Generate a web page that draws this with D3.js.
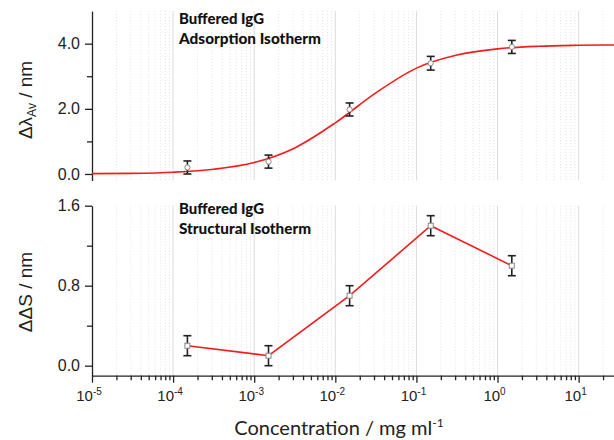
<!DOCTYPE html>
<html><head><meta charset="utf-8">
<script src="https://cdn.jsdelivr.net/npm/d3@7"></script>
<style>
body{margin:0;background:#fff;}
svg{display:block;}
</style></head>
<body>
<svg id="chart" width="614" height="440"></svg>
<script>
// ---- data ----
const concentrations = [1.5e-4, 1.5e-3, 1.5e-2, 0.15, 1.5];          // mg/ml
const adsorption     = [0.20, 0.38, 1.98, 3.40, 3.90];              // Δλ_Av (nm)
const adsorptionErr  = [0.20, 0.20, 0.20, 0.21, 0.20];
const structural     = [0.20, 0.10, 0.70, 1.40, 1.00];              // ΔΔS (nm)
const structuralErr  = [0.10, 0.10, 0.10, 0.10, 0.10];
// fitted isotherm at half-decade steps
const fitConc   = [1e-5, 3.16e-5, 1e-4, 3.16e-4, 1e-3, 3.16e-3, 1e-2, 3.16e-2, 0.1, 0.316, 1, 3.16, 10, 27.3];
const fitValues = [0.01, 0.02, 0.055, 0.144, 0.35, 0.80, 1.57, 2.49, 3.25, 3.65, 3.84, 3.92, 3.95, 3.96];
const xTickExponents = [-5, -4, -3, -2, -1, 0, 1];
const topTicks = [0, 2, 4], topMinor = [1, 3];
const botTicks = [0, 0.8, 1.6], botMinor = [0.4, 1.2];
const topTitle = ["Buffered IgG", "Adsorption Isotherm"];
const botTitle = ["Buffered IgG", "Structural Isotherm"];

// ---- layout ----
const svg = d3.select("#chart");
const X0 = 92, X1 = 614;
const x = d3.scaleLog().domain([1e-5, Math.pow(10, 1.436)]).range([X0, X1]);
const yTop = d3.scaleLinear().domain([-0.2, 5.0]).range([180.5, 11.1]);
const yBot = d3.scaleLinear().domain([-0.1, 1.6]).range([375.7, 205.7]);

const majors = xTickExponents.map(e => Math.pow(10, e));
const minors = [];
for (let e = -5; e <= 1; e++) for (let m = 2; m <= 9; m++) {
  const v = m * Math.pow(10, e);
  if (v <= x.domain()[1]) minors.push(v);
}

function grid(y) {
  const [b, t] = y.range();
  const g = svg.append("g");
  g.selectAll("line.minor").data(minors).join("line")
    .attr("x1", d => x(d)).attr("x2", d => x(d)).attr("y1", t).attr("y2", b)
    .attr("stroke", "#e2e2e2").attr("stroke-width", 1).attr("stroke-dasharray", "1,2");
  g.selectAll("line.major").data(majors.slice(1)).join("line")
    .attr("x1", d => x(d)).attr("x2", d => x(d)).attr("y1", t).attr("y2", b)
    .attr("stroke", "#dcdcdc").attr("stroke-width", 1);
}
grid(yTop); grid(yBot);

function yAxis(y, ticks, minor) {
  const g = svg.append("g").attr("transform", `translate(${X0},0)`);
  g.call(d3.axisLeft(y).tickValues(ticks).tickSize(7).tickSizeOuter(0).tickPadding(6)
      .tickFormat(d3.format(".1f")));
  g.append("g").call(d3.axisLeft(y).tickValues(minor).tickSize(5).tickSizeOuter(0).tickFormat(""))
    .select(".domain").remove();
  g.selectAll("path,line").attr("stroke", "#222").attr("stroke-width", 1.3);
  g.selectAll("text").attr("font-family", "Liberation Sans, Arial, sans-serif")
    .attr("font-size", 16).attr("fill", "#222").attr("dx", "1");
}
yAxis(yTop, topTicks, topMinor);
yAxis(yBot, botTicks, botMinor);

// x axis (bottom panel)
const xa = svg.append("g").attr("transform", `translate(0,${yBot.range()[0]})`);
xa.call(d3.axisBottom(x).tickValues(majors).tickSize(7).tickSizeOuter(0).tickFormat(""));
xa.append("g").call(d3.axisBottom(x).tickValues(minors).tickSize(4.5).tickSizeOuter(0).tickFormat(""))
  .select(".domain").remove();
xa.selectAll("path,line").attr("stroke", "#222").attr("stroke-width", 1.3);
xa.selectAll(".xlab").data(xTickExponents).join("text")
  .attr("class", "xlab")
  .attr("x", e => x(Math.pow(10, e)) - 3).attr("y", 25.5)
  .attr("text-anchor", "middle")
  .attr("font-family", "Liberation Sans, Arial, sans-serif").attr("font-size", 15).attr("fill", "#222")
  .each(function(e) {
    const t = d3.select(this);
    t.append("tspan").text("10");
    t.append("tspan").attr("font-size", 10).attr("dy", -6).text(String(e));
  });

// x title
const xt = svg.append("text").attr("x", 339).attr("y", 435).attr("text-anchor", "middle")
  .attr("font-family", "Lato, 'Open Sans', sans-serif").attr("font-size", 20).attr("fill", "#222");
xt.append("tspan").text("Concentration / mg ml");
xt.append("tspan").attr("font-size", 12).attr("dy", -8).text("-1");

// y titles
const yt1 = svg.append("text").attr("transform", "translate(32,100) rotate(-90)")
  .attr("text-anchor", "middle").attr("font-family", "Liberation Sans, Arial, sans-serif")
  .attr("font-size", 19).attr("fill", "#222");
yt1.append("tspan").text("Δλ");
yt1.append("tspan").attr("font-size", 12).attr("dy", 4).text("Av");
yt1.append("tspan").attr("dy", -4).text(" / nm");
svg.append("text").attr("transform", "translate(32,292) rotate(-90)")
  .attr("text-anchor", "middle").attr("font-family", "Liberation Sans, Arial, sans-serif")
  .attr("font-size", 19).attr("fill", "#222").text("ΔΔS / nm");

// panel titles
function panelTitle(lines, y0) {
  const widths = [85, lines[1].startsWith("Ads") ? 142 : 132];
  lines.forEach((s, i) => {
    svg.append("text").attr("x", 179).attr("y", y0 + i * 20)
      .attr("font-family", "Lato, 'Open Sans', sans-serif").attr("font-weight", 900)
      .attr("font-size", 15.5).attr("fill", "#111")
      .attr("textLength", widths[i]).attr("lengthAdjust", "spacingAndGlyphs").text(s);
  });
}
panelTitle(topTitle, 23.5);
panelTitle(botTitle, 214);

// fit curve (top)
const fit = fitConc.map((c, i) => [c, fitValues[i]]);
svg.append("path").datum(fit)
  .attr("d", d3.line().x(d => x(d[0])).y(d => yTop(d[1])).curve(d3.curveMonotoneX))
  .attr("fill", "none").attr("stroke", "#f21c1c").attr("stroke-width", 1.6);

// structural line (bottom)
const sdata = concentrations.map((c, i) => [c, structural[i]]);
svg.append("path").datum(sdata)
  .attr("d", d3.line().x(d => x(d[0])).y(d => yBot(d[1])))
  .attr("fill", "none").attr("stroke", "#f21c1c").attr("stroke-width", 1.6);

function errorBars(vals, errs, y) {
  const g = svg.append("g").attr("stroke", "#222").attr("stroke-width", 1.6);
  concentrations.forEach((c, i) => {
    const cx = x(c), hi = y(vals[i] + errs[i]), lo = y(vals[i] - errs[i]);
    g.append("line").attr("x1", cx).attr("x2", cx).attr("y1", hi).attr("y2", lo);
    g.append("line").attr("x1", cx - 4).attr("x2", cx + 4).attr("y1", hi).attr("y2", hi);
    g.append("line").attr("x1", cx - 4).attr("x2", cx + 4).attr("y1", lo).attr("y2", lo);
  });
}
errorBars(adsorption, adsorptionErr, yTop);
errorBars(structural, structuralErr, yBot);

svg.append("g").selectAll("circle").data(concentrations).join("circle")
  .attr("cx", d => x(d)).attr("cy", (d, i) => yTop(adsorption[i])).attr("r", 2.6)
  .attr("fill", "#fff").attr("stroke", "#888").attr("stroke-width", 1);
svg.append("g").selectAll("rect").data(concentrations).join("rect")
  .attr("x", d => x(d) - 2.5).attr("y", (d, i) => yBot(structural[i]) - 2.5)
  .attr("width", 5).attr("height", 5)
  .attr("fill", "#fff").attr("stroke", "#888").attr("stroke-width", 1);
</script>
</body></html>
